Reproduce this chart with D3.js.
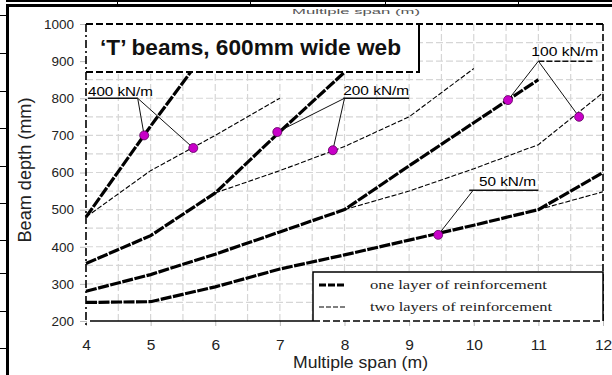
<!DOCTYPE html>
<html>
<head>
<meta charset="utf-8">
<script src="https://cdn.jsdelivr.net/npm/d3@7"></script>
<style>
  body { margin: 0; background: #fff; }
  svg { display: block; }
</style>
</head>
<body>
<svg id="chart" width="612" height="375"></svg>
<script>
// Beam depth required for 'T' beams (600mm web) over multiple spans, per line load.
const spanTicks = [4, 5, 6, 7, 8, 9, 10, 11, 12];
const depthTicks = [200, 300, 400, 500, 600, 700, 800, 900, 1000];

// One layer of reinforcement: [span (m), depth (mm)]
const oneLayer400 = [[4, 480], [5, 725], [6, 960]];
const oneLayer200 = [[4, 355], [5, 430], [6, 545], [7, 710], [8, 870]];
const oneLayer100 = [[4, 280], [5, 325], [6, 380], [7, 440], [8, 500], [9, 618], [10, 734], [11, 850]];
const oneLayer50  = [[4, 250], [5, 252], [6, 292], [7, 340], [8, 378], [9, 418], [10, 458], [11, 500], [12, 600]];

// Two layers of reinforcement: [span (m), depth (mm)]
const twoLayer400 = [[4, 480], [5, 605], [6, 700], [7, 800]];
const twoLayer200 = [[6, 545], [7, 605], [8, 670], [9, 750], [10, 880]];
const twoLayer100 = [[8, 500], [9, 550], [10, 610], [11, 675], [12, 815]];
const twoLayer50  = [[11, 500], [12, 548]];

// Highlighted design points: [span (m), depth (mm)]
const markedPoints = [[4.9, 700], [5.66, 666], [6.96, 709], [7.82, 660], [10.53, 795], [11.63, 750], [9.45, 432]];

const loadLabels = ["400 kN/m", "200 kN/m", "100 kN/m", "50 kN/m"];
const legendLabels = ["one layer of reinforcement", "two layers of reinforcement"];
const chartTitle = "\u2018T\u2019 beams, 600mm wide web";
const xTitle = "Multiple span (m)";
const yTitle = "Beam depth (mm)";

const svg = d3.select("#chart");
const SANS = "'Liberation Sans', Arial, sans-serif";
const SERIF = "'Liberation Serif', 'Times New Roman', serif";

const x = d3.scaleLinear().domain([4, 12]).range([86, 603]);
const y = d3.scaleLinear().domain([200, 1000]).range([321, 24]);

// ---- gridlines every 0.5 m and 50 mm ----
const grid = svg.append("g").attr("stroke", "#d6d6d6").attr("stroke-width", 1.2)
  .attr("stroke-dasharray", "7,3");
grid.selectAll("line.v").data(d3.range(4.5, 12, 0.5)).join("line")
  .attr("x1", d => x(d)).attr("x2", d => x(d)).attr("y1", y(200)).attr("y2", y(1000));
grid.selectAll("line.h").data(d3.range(250, 1000, 50)).join("line")
  .attr("x1", x(4)).attr("x2", x(12)).attr("y1", d => y(d)).attr("y2", d => y(d));

// ---- axes ----
const yAxis = svg.append("g").attr("transform", `translate(${x(4)},0)`)
  .call(d3.axisLeft(y).tickValues(depthTicks).tickFormat(d3.format("d")).tickSize(6).tickPadding(6));
yAxis.select(".domain").remove();
yAxis.selectAll(".tick line").attr("stroke", "#bbb");
yAxis.selectAll(".tick text").attr("font-family", SANS).attr("font-size", 13.5).attr("fill", "#222");

const xAxis = svg.append("g").attr("transform", `translate(0,${y(200)})`)
  .call(d3.axisBottom(x).tickValues(spanTicks).tickFormat(d3.format("d")).tickSize(5).tickPadding(13));
xAxis.select(".domain").remove();
xAxis.selectAll(".tick line").attr("stroke", "#bbb");
xAxis.selectAll(".tick text").attr("font-family", SANS).attr("font-size", 15.5).attr("fill", "#222");

svg.append("text").attr("x", 293).attr("y", 368)
  .attr("font-family", SANS).attr("font-size", 17).attr("fill", "#222")
  .attr("textLength", 135).attr("lengthAdjust", "spacingAndGlyphs")
  .text(xTitle);
svg.append("text").attr("transform", "translate(31,170) rotate(-90)")
  .attr("text-anchor", "middle")
  .attr("font-family", SANS).attr("font-size", 17.5).attr("fill", "#222")
  .attr("textLength", 145).attr("lengthAdjust", "spacingAndGlyphs")
  .text(yTitle);

// ---- plot frame ----
const frame = svg.append("g").attr("stroke", "#000").attr("fill", "none");
frame.append("line").attr("x1", x(4)).attr("x2", x(12)).attr("y1", y(1000)).attr("y2", y(1000))
  .attr("stroke-width", 2).attr("stroke-dasharray", "7,3");
frame.append("line").attr("x1", x(4)).attr("x2", x(4)).attr("y1", y(1000)).attr("y2", y(200) + 4)
  .attr("stroke-width", 1.6).attr("stroke-dasharray", "8,3,2,3");
frame.append("line").attr("x1", x(12)).attr("x2", x(12)).attr("y1", y(1000)).attr("y2", y(200))
  .attr("stroke-width", 1.6).attr("stroke-dasharray", "7,3");
frame.append("line").attr("x1", x(4) + 4).attr("x2", 313).attr("y1", y(200)).attr("y2", y(200))
  .attr("stroke-width", 1.5);

// ---- depth curves ----
const line = d3.line().x(d => x(d[0])).y(d => y(d[1]));
const curves = svg.append("g").attr("fill", "none").attr("stroke", "#000");
[oneLayer400, oneLayer200, oneLayer100, oneLayer50].forEach(s => {
  curves.append("path").datum(s).attr("d", line)
    .attr("stroke-width", 3.2).attr("stroke-dasharray", "11,1.5");
});
[twoLayer400, twoLayer200, twoLayer100, twoLayer50].forEach(s => {
  curves.append("path").datum(s).attr("d", line)
    .attr("stroke-width", 1.1).attr("stroke-dasharray", "5,2");
});

// ---- load labels with leader lines ----
const labelSpecs = [
  { text: loadLabels[0], tx: 4.03, ty: 806, len: 65, ux: [4.03, 4.8], uy: 800, from: [4.8, 800], to: [0, 1] },
  { text: loadLabels[1], tx: 7.98, ty: 810, len: 66, ux: [7.98, 9.0], uy: 800, from: [8.0, 800], to: [2, 3] },
  { text: loadLabels[2], tx: 10.89, ty: 915, len: 67, ux: [11.0, 11.86], uy: 900, from: [11.0, 900], to: [4, 5] },
  { text: loadLabels[3], tx: 10.08, ty: 563, len: 57, ux: [9.93, 11.0], uy: 552, from: [9.99, 552], to: [6] }
];
const leaders = svg.append("g").attr("stroke", "#111").attr("stroke-width", 1).attr("fill", "none");
labelSpecs.forEach((s, i) => {
  leaders.append("line").attr("x1", x(s.ux[0])).attr("x2", x(s.ux[1]))
    .attr("y1", y(s.uy)).attr("y2", y(s.uy))
    .attr("stroke-width", 1.5).attr("stroke-dasharray", i === 2 ? "6,2" : null);
  s.to.forEach(k => {
    leaders.append("line").attr("x1", x(s.from[0])).attr("y1", y(s.from[1]))
      .attr("x2", x(markedPoints[k][0])).attr("y2", y(markedPoints[k][1]));
  });
});

// ---- highlighted points ----
svg.append("g").selectAll("circle").data(markedPoints).join("circle")
  .attr("cx", d => x(d[0])).attr("cy", d => y(d[1])).attr("r", 4.5)
  .attr("fill", "#c800c8").attr("stroke", "#5a005a").attr("stroke-width", 0.8);

// ---- title box ----
const tb = svg.append("g");
tb.append("rect").attr("x", x(4) + 1).attr("y", y(1000) + 1).attr("width", 332).attr("height", 47).attr("fill", "#fff");
tb.append("line").attr("x1", 419).attr("x2", 419).attr("y1", y(1000)).attr("y2", 73)
  .attr("stroke", "#000").attr("stroke-width", 2);
tb.append("line").attr("x1", x(4)).attr("x2", 420).attr("y1", 72).attr("y2", 72)
  .attr("stroke", "#000").attr("stroke-width", 2).attr("stroke-dasharray", "7,3");
tb.append("text").attr("x", 100).attr("y", 55)
  .attr("font-family", SANS).attr("font-weight", "bold").attr("font-size", 22).attr("fill", "#111")
  .attr("textLength", 301).attr("lengthAdjust", "spacingAndGlyphs")
  .text(chartTitle);

const labels = svg.append("g").attr("font-family", SANS).attr("font-size", 12.5).attr("fill", "#000");
labelSpecs.forEach(s => {
  labels.append("text").attr("x", x(s.tx)).attr("y", y(s.ty))
    .attr("textLength", s.len).attr("lengthAdjust", "spacingAndGlyphs").text(s.text);
});

// ---- legend ----
const lg = svg.append("g");
lg.append("rect").attr("x", 313).attr("y", 272).attr("width", 290).attr("height", 49).attr("fill", "#fff");
lg.append("path").attr("d", "M313,321V272H603V321").attr("fill", "none").attr("stroke", "#000").attr("stroke-width", 1.5);
lg.append("line").attr("x1", 313).attr("x2", 603).attr("y1", 321).attr("y2", 321)
  .attr("stroke", "#000").attr("stroke-width", 1.5).attr("stroke-dasharray", "7,3");
lg.append("line").attr("x1", 319).attr("x2", 346).attr("y1", 285).attr("y2", 285)
  .attr("stroke", "#000").attr("stroke-width", 3.2).attr("stroke-dasharray", "7,2");
lg.append("line").attr("x1", 319).attr("x2", 346).attr("y1", 307).attr("y2", 307)
  .attr("stroke", "#000").attr("stroke-width", 1.1).attr("stroke-dasharray", "5,2");
lg.selectAll("text").data(legendLabels).join("text")
  .attr("x", 370).attr("y", (d, i) => 289 + i * 22)
  .attr("font-family", SERIF).attr("font-size", 13).attr("fill", "#222")
  .attr("textLength", (d, i) => i === 0 ? 177 : 182).attr("lengthAdjust", "spacingAndGlyphs")
  .text(d => d);

// ---- page surround: ruled border and the axis title of the figure above ----
const page = svg.append("g");
page.append("text").attr("x", 292).attr("y", 14)
  .attr("font-family", SANS).attr("font-size", 7.5).attr("fill", "#555")
  .attr("textLength", 128).attr("lengthAdjust", "spacingAndGlyphs").text(xTitle);
page.append("rect").attr("x", 6).attr("y", 0).attr("width", 606).attr("height", 2).attr("fill", "#000");
page.append("rect").attr("x", 6).attr("y", 4).attr("width", 606).attr("height", 3).attr("fill", "#000");
page.append("rect").attr("x", 6).attr("y", 4).attr("width", 3).attr("height", 371).attr("fill", "#000");
[117, 250, 385, 518].forEach(cx => {
  page.append("rect").attr("x", cx).attr("y", 0).attr("width", 1).attr("height", 5).attr("fill", "#000");
});
[15, 53, 91, 128, 166, 203, 240, 273, 311, 348].forEach(ry => {
  page.append("rect").attr("x", 0).attr("y", ry).attr("width", 6).attr("height", 1).attr("fill", "#000");
});
</script>
</body>
</html>
